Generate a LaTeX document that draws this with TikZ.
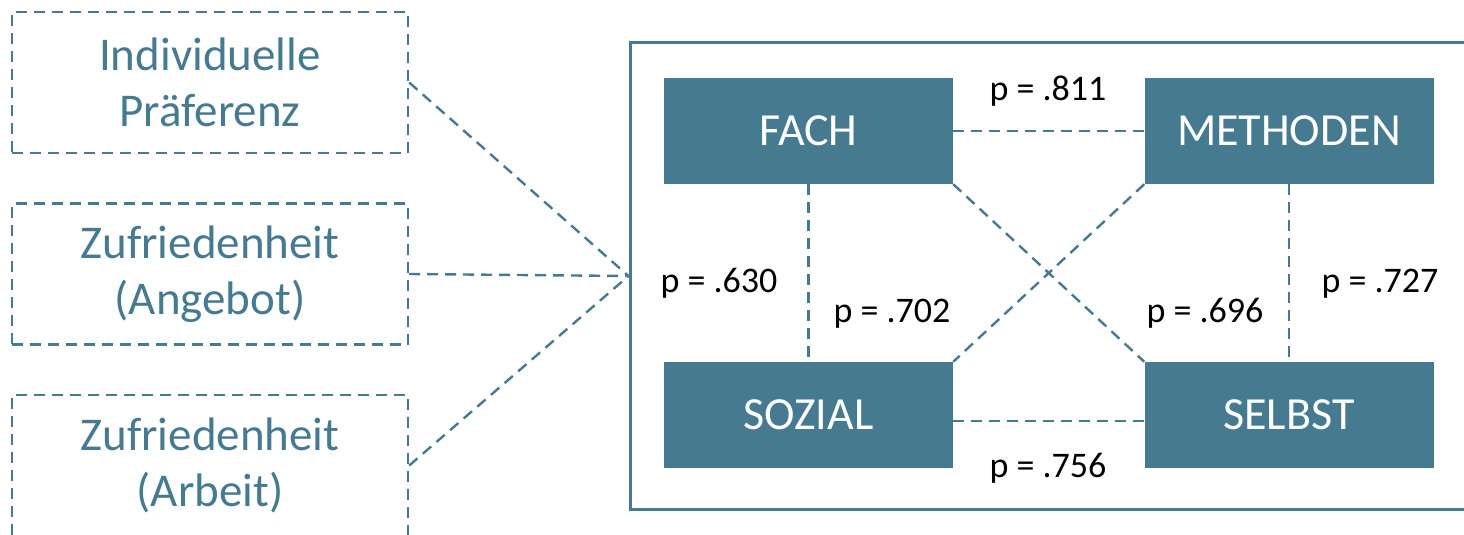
\documentclass[tikz,border=0pt]{standalone}
\usepackage{fontspec}
\setmainfont{Carlito}
\definecolor{mainteal}{RGB}{70,122,145}
\tikzset{
  dashline/.style={draw=mainteal, line width=2.4pt, dash pattern=on 11pt off 7pt},
  leftbox/.style={dashline, minimum width=396pt, minimum height=141pt, inner sep=0pt, text=mainteal, align=center, font=\fontsize{47}{56}\selectfont},
  compbox/.style={fill=mainteal, minimum width=289pt, minimum height=106pt, inner sep=0pt, text=white, font=\fontsize{46}{55}\selectfont},
  plabel/.style={font=\fontsize{36}{43}\selectfont, inner sep=0pt, anchor=base, text=black},
  framebox/.style={draw=mainteal, line width=3pt, minimum width=850pt, minimum height=466pt, inner sep=0pt}
}
\begin{document}
\begin{tikzpicture}[x=1pt,y=-1pt]
\useasboundingbox (0,0) rectangle (1464,535);
% left boxes
\node[leftbox] (b1) at (210,82.5) {Individuelle\\Präferenz};
\node[leftbox] (b2) at (210,274) {Zufriedenheit\\(Angebot)};
\node[leftbox] (b3) at (210,465.5) {Zufriedenheit\\(Arbeit)};
% frame
\node[framebox] (frame) at (1055,276) {};
% competence boxes
\node[compbox] (fach) at (808.5,131) {FACH};
\node[compbox] (meth) at (1289,131) {METHODEN};
\node[compbox] (soz) at (808.5,415) {SOZIAL};
\node[compbox] (selb) at (1289,415) {SELBST};
% connectors left
\draw[dashline] (b1.east) -- (frame.west);
\draw[dashline] (b2.east) -- (frame.west);
\draw[dashline] (b3.east) -- (frame.west);
% connectors inside
\draw[dashline] (fach) -- (meth);
\draw[dashline] ([yshift=-6pt]soz.east) -- ([yshift=-6pt]selb.west);
\draw[dashline] (fach.south) -- (soz.north);
\draw[dashline] (meth.south) -- (selb.north);
\draw[dashline] (fach.south east) -- (selb.north west);
\draw[dashline] (meth.south west) -- (soz.north east);
% labels
\node[plabel] (p811) at (1048,100) {p = .811};
\node[plabel] (p630) at (719,292) {p = .630};
\node[plabel] (p702) at (892,322) {p = .702};
\node[plabel] (p696) at (1205,322) {p = .696};
\node[plabel] (p727) at (1380,292) {p = .727};
\node[plabel] (p756) at (1048,477) {p = .756};
\end{tikzpicture}
\end{document}
